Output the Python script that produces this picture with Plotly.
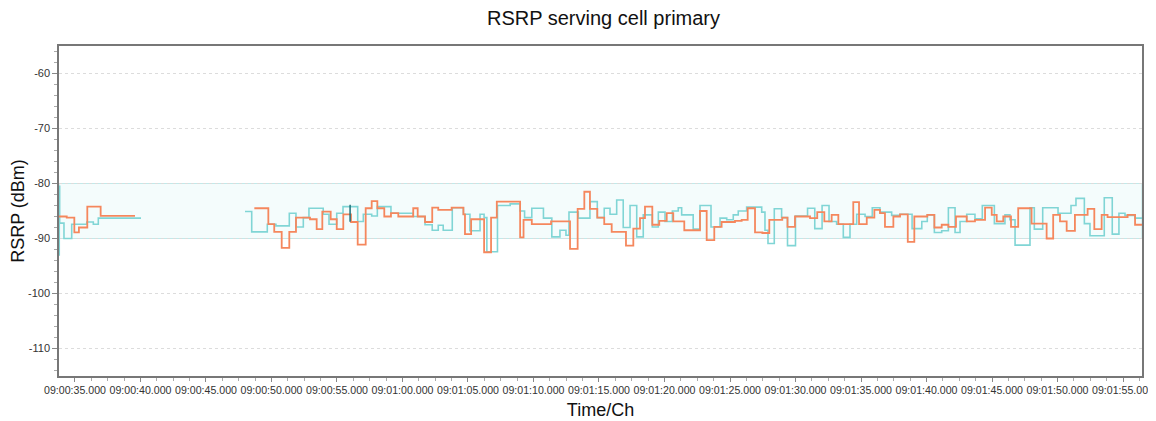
import datetime as dt
import plotly.graph_objects as go

BASE = dt.datetime(2024, 1, 1, 9, 0, 0)

# seconds after 09:00:00 and RSRP values (dBm); None = gap
orange_t = [33.78, 34.37, 34.95, 35.30, 35.94, 36.96, 39.58, 39.6,
            48.69, 49.76, 50.21, 50.78, 51.36, 51.87, 52.94, 53.45, 53.88, 54.52, 54.98, 55.48,
            56.07, 56.58, 57.19, 57.65, 58.08, 58.61, 59.12, 59.68, 60.82, 61.16, 61.72, 62.27,
            62.73, 63.75, 64.65, 64.77, 65.24, 66.23, 66.76, 67.20, 68.98, 69.24, 69.87, 71.34,
            72.79, 73.37, 73.88, 74.31, 74.87, 75.40, 75.97, 77.06, 77.62, 78.13, 78.51, 79.07,
            79.60, 80.17, 80.67, 81.51, 82.71, 83.22, 83.80, 84.36, 85.38, 85.89, 86.35, 86.91,
            87.47, 88.00, 88.99, 89.39, 89.96, 91.11, 91.66, 92.20, 92.76, 93.27, 94.41, 94.85,
            95.44, 96.02, 96.45, 96.83, 97.47, 97.98, 98.57, 99.07, 100.06, 100.60, 101.16,
            101.67, 102.25, 103.07, 103.70, 104.47, 104.98, 105.36, 105.86, 106.45, 107.00,
            108.02, 109.17, 109.67, 110.19, 110.70, 111.33, 112.30, 112.81, 113.37, 113.82,
            115.35, 115.92, 116.6]
orange_v = [-86.0, -86.2, -88.9, -88.0, -84.2, -85.9, -85.9, None,
            -84.5, -87.4, -88.8, -91.7, -88.8, -86.2, -86.5, -88.3, -85.1, -86.5, -88.3, -85.6,
            -87.0, -91.1, -84.5, -83.2, -84.5, -86.0, -85.4, -86.0, -84.5, -86.0, -87.0, -84.4,
            -84.8, -84.4, -85.6, -89.2, -86.5, -92.5, -86.2, -83.3, -89.8, -86.6, -87.4, -86.9,
            -91.9, -84.6, -81.5, -84.6, -86.2, -87.4, -88.8, -91.3, -88.2, -86.3, -84.2, -87.5,
            -86.8, -85.4, -86.9, -88.5, -85.0, -90.3, -87.9, -87.0, -86.8, -86.6, -84.5, -88.9,
            -89.0, -86.6, -86.2, -87.9, -86.0, -86.3, -85.2, -86.9, -85.7, -87.4, -83.4, -87.4,
            -86.2, -84.8, -85.4, -87.9, -86.0, -85.6, -90.6, -86.0, -85.7, -88.0, -87.5,
            -87.9, -86.0, -86.9, -86.6, -84.4, -85.7, -86.9, -86.0, -87.9, -84.5,
            -87.3, -90.0, -85.7, -86.9, -88.6, -85.7, -84.6, -88.3, -85.7, -86.1,
            -85.7, -87.5, -87.5]

cyan_t = [33.78, 33.80, 33.83, 34.16, 34.75, 35.90, 36.40, 36.78, 40.04, 40.1,
          47.98, 48.49, 49.68, 50.34, 51.36, 51.87, 52.43, 52.86, 53.95, 54.39, 54.98, 55.46,
          56.58, 57.01, 57.65, 58.08, 59.12, 60.82, 61.72, 62.27, 62.73, 63.11, 63.80, 64.65,
          65.15, 65.92, 66.23, 66.44, 67.25, 68.22, 68.98, 69.32, 69.87, 70.76, 71.40, 72.02,
          72.48, 72.71, 73.42, 74.31, 74.87, 75.40, 75.84, 76.35, 76.85, 77.37, 77.88, 78.38,
          79.07, 79.53, 80.04, 80.60, 81.05, 81.31, 82.19, 82.71, 83.55, 84.24, 84.75, 85.25,
          85.63, 86.27, 87.42, 87.67, 87.90, 88.38, 88.94, 89.39, 90.00, 90.92, 91.47, 92.03,
          92.56, 93.14, 93.65, 94.16, 94.67, 95.31, 95.86, 96.45, 97.34, 97.98, 98.90, 99.64,
          100.06, 100.60, 101.16, 101.67, 102.18, 102.56, 103.07, 103.70, 104.26, 105.18,
          105.99, 106.37, 106.76, 107.90, 108.23, 108.87, 110.04, 111.03, 111.41, 112.05,
          112.48, 113.57, 114.18, 114.69, 115.15, 115.92, 116.6]
cyan_v = [-93.0, -80.5, -87.2, -90.0, -87.4, -87.0, -87.4, -86.3, -86.3, None,
          -85.1, -88.8, -87.4, -87.7, -85.4, -87.9, -86.2, -84.5, -85.6, -87.4, -85.4, -84.2,
          -86.9, -85.6, -85.9, -84.2, -85.4, -86.0, -87.5, -88.5, -87.6, -88.5, -84.4, -85.6,
          -88.6, -85.6, -86.2, -92.4, -84.0, -83.7, -85.0, -86.2, -84.5, -86.3, -89.7, -88.5,
          -89.4, -85.2, -86.3, -83.3, -86.2, -84.5, -85.6, -83.0, -88.0, -84.0, -89.7, -85.7,
          -87.9, -85.2, -86.9, -85.0, -84.4, -85.7, -88.3, -84.0, -87.9, -86.3, -86.6, -85.7,
          -85.0, -84.3, -85.2, -88.5, -90.9, -84.6, -86.2, -91.3, -85.9, -84.5, -88.2, -84.0,
          -86.9, -87.4, -89.8, -87.4, -85.6, -86.0, -84.4, -85.2, -85.8, -85.6, -88.2, -86.9,
          -85.7, -88.9, -88.6, -84.4, -88.9, -86.9, -85.6, -86.4, -84.0, -87.3,
          -85.7, -86.6, -91.2, -84.4, -88.3, -84.4, -85.4, -84.0, -82.7, -87.3,
          -89.5, -82.6, -89.2, -85.4, -85.8, -86.3, -86.3]

dark_t = [55.95, 56.00, 56.05]
dark_v = [-84.0, -86.8, -86.8]

band_low, band_high = -90, -80
y_range = [-115, -55]
y_ticks = [-60, -70, -80, -90, -100, -110]
y_ticklabels = ["-60", "-70", "-80", "-90", "-100", "-110"]
x_start, x_end = 33.78, 116.45
tick_start = 35


def to_dt(secs):
    return [BASE + dt.timedelta(seconds=s) for s in secs]


fig = go.Figure()
fig.add_shape(type="rect", xref="paper", x0=0, x1=1, yref="y", y0=band_low, y1=band_high,
              fillcolor="rgba(220,244,244,0.3)", line=dict(color="rgba(180,228,228,0.8)", width=1),
              layer="below")
fig.add_trace(go.Scatter(x=to_dt(cyan_t), y=cyan_v, mode="lines", line_shape="hv",
                         line=dict(color="#80d5d5", width=1.6), connectgaps=False,
                         name="cyan", showlegend=False))
fig.add_trace(go.Scatter(x=to_dt(orange_t), y=orange_v, mode="lines", line_shape="hv",
                         line=dict(color="#f5875d", width=1.8), connectgaps=False,
                         name="orange", showlegend=False))
fig.add_trace(go.Scatter(x=to_dt(dark_t), y=dark_v, mode="lines", line_shape="hv",
                         line=dict(color="#1d6f78", width=1.5), showlegend=False))

# page body adds an 8 px offset; figure is sized to fill the remaining window
fig.update_layout(
    width=1148, height=413,
    margin=dict(l=51, r=14, t=38, b=45, autoexpand=False),
    paper_bgcolor="white", plot_bgcolor="white",
    font=dict(family="Liberation Sans, Arial, sans-serif", color="#333"),
    title=dict(text="RSRP serving cell primary", x=(603.5 - 8) / 1148,
               xanchor="center", yref="container", y=1 - 10 / 413, yanchor="middle",
               font=dict(size=20, color="#111"), automargin=False),
)
fig.update_xaxes(
    type="date", automargin=False,
    range=to_dt([x_start, x_end]),
    tick0=to_dt([tick_start])[0], dtick=5000,
    tickformat="%H:%M:%S.%L", tickangle=0,
    tickfont=dict(size=10.6, color="#333"),
    showgrid=False, zeroline=False,
    showline=True, linecolor="#777", linewidth=1.5, mirror=True,
    ticks="outside", ticklen=4, tickcolor="#888",
    minor=dict(dtick=1250, ticks="outside", ticklen=3, tickcolor="#aaa", showgrid=False),
    title=dict(text="Time/Ch", font=dict(size=18, color="#111"), standoff=8),
)
fig.update_yaxes(
    automargin=False,
    range=y_range, tickmode="array", tickvals=y_ticks, ticktext=y_ticklabels,
    tickfont=dict(size=11, color="#333"),
    showgrid=True, gridcolor="#dcdcdc", griddash="dot", gridwidth=1,
    zeroline=False,
    showline=True, linecolor="#777", linewidth=1.5, mirror=True,
    ticks="outside", ticklen=5, tickcolor="#888",
    minor=dict(dtick=2, ticks="outside", ticklen=3, tickcolor="#aaa", showgrid=False),
    title=dict(text="RSRP (dBm)", font=dict(size=18, color="#111"), standoff=2),
)

fig.write_html("out.html")
